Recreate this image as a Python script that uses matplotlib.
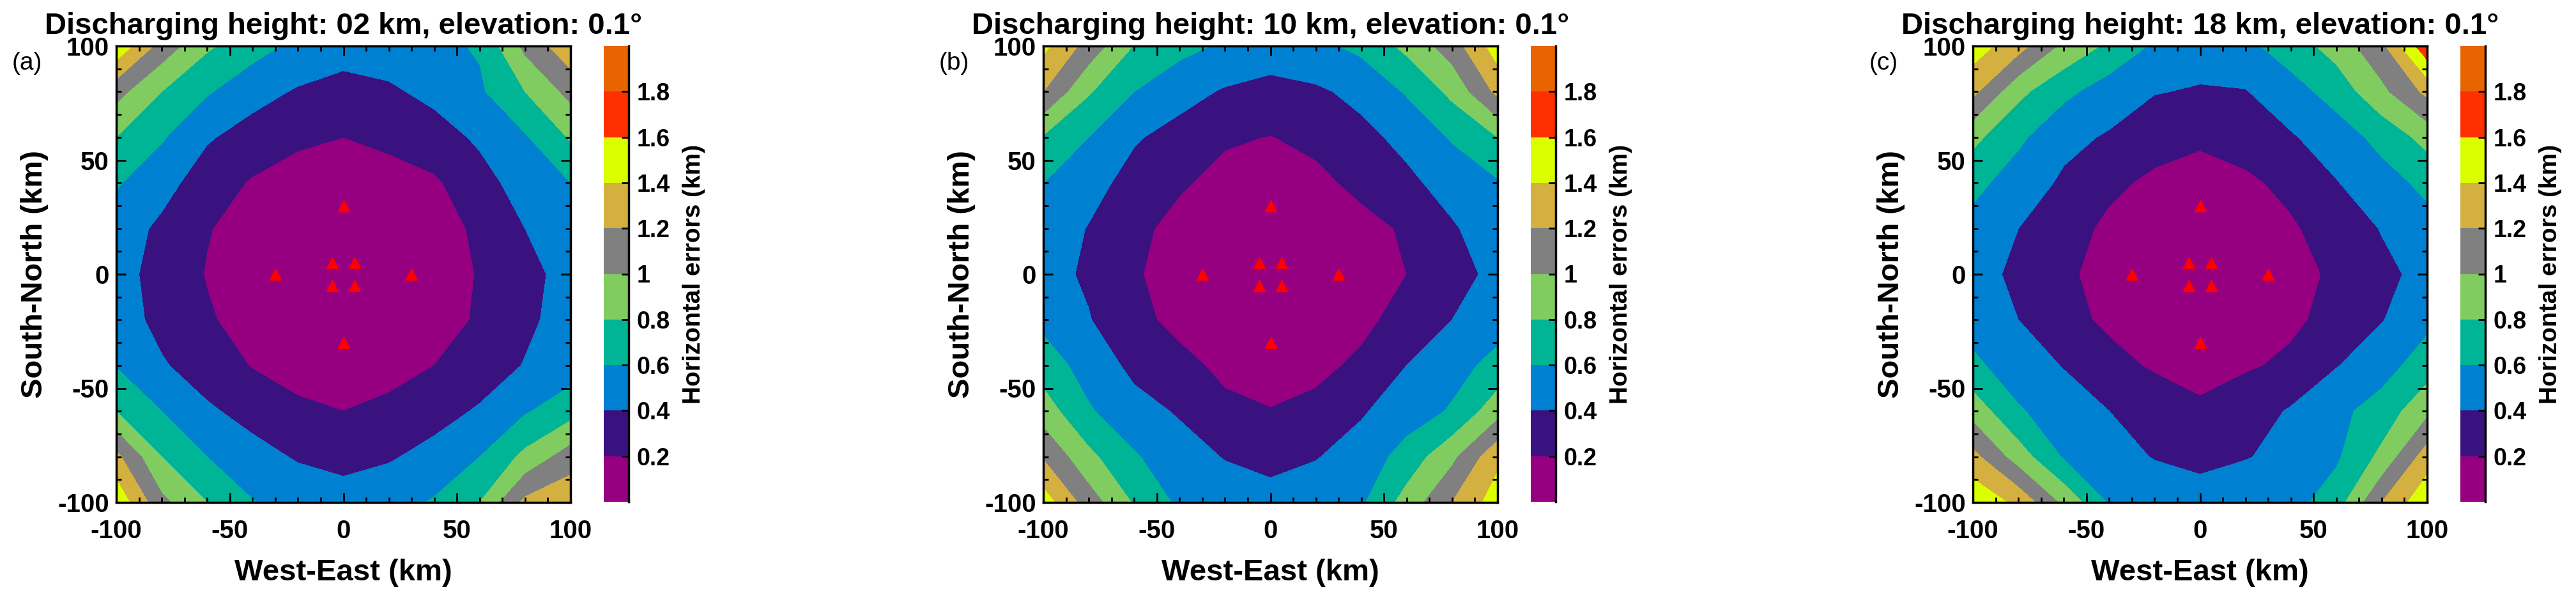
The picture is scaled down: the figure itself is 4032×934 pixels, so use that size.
import numpy as np
import matplotlib.pyplot as plt

plt.rcParams["font.family"] = ["Liberation Sans", "DejaVu Sans"]
plt.rcParams["font.weight"] = "bold"
plt.rcParams["axes.labelweight"] = "bold"
plt.rcParams["axes.unicode_minus"] = False

# grid of the error maps (km), rows go from y=100 (top) down to y=-100
x_km = [-100, -80, -60, -40, -20, 0, 20, 40, 60, 80, 100]
y_km = [100, 80, 60, 40, 20, 0, -20, -40, -60, -80, -100]

err_02 = [
    [1.55, 1.12, 0.83, 0.68, 0.55, 0.47, 0.50, 0.55, 0.62, 1.05, 1.34],
    [1.07, 0.80, 0.62, 0.47, 0.38, 0.34, 0.37, 0.45, 0.57, 0.80, 1.06],
    [0.80, 0.62, 0.42, 0.32, 0.23, 0.20, 0.24, 0.32, 0.43, 0.58, 0.82],
    [0.62, 0.47, 0.30, 0.18, 0.13, 0.12, 0.13, 0.17, 0.33, 0.48, 0.60],
    [0.50, 0.36, 0.21, 0.13, 0.08, 0.07, 0.08, 0.13, 0.23, 0.40, 0.50],
    [0.48, 0.32, 0.19, 0.12, 0.07, 0.05, 0.07, 0.12, 0.21, 0.33, 0.48],
    [0.50, 0.34, 0.22, 0.13, 0.08, 0.07, 0.08, 0.13, 0.22, 0.36, 0.48],
    [0.59, 0.42, 0.30, 0.19, 0.14, 0.12, 0.14, 0.20, 0.30, 0.41, 0.50],
    [0.80, 0.60, 0.43, 0.33, 0.23, 0.20, 0.24, 0.33, 0.42, 0.58, 0.72],
    [1.25, 0.80, 0.60, 0.47, 0.38, 0.34, 0.38, 0.46, 0.60, 0.85, 1.10],
    [1.55, 1.05, 0.80, 0.61, 0.53, 0.48, 0.52, 0.62, 0.80, 1.25, 1.35],
]

err_10 = [
    [1.45, 1.12, 0.79, 0.66, 0.57, 0.50, 0.55, 0.65, 0.85, 1.10, 1.50],
    [1.20, 0.82, 0.60, 0.47, 0.38, 0.34, 0.37, 0.45, 0.62, 0.85, 1.25],
    [0.78, 0.60, 0.42, 0.33, 0.22, 0.195, 0.24, 0.35, 0.45, 0.62, 0.80],
    [0.60, 0.47, 0.33, 0.22, 0.15, 0.13, 0.16, 0.24, 0.36, 0.47, 0.58],
    [0.52, 0.39, 0.24, 0.15, 0.09, 0.07, 0.09, 0.15, 0.22, 0.38, 0.50],
    [0.47, 0.37, 0.22, 0.12, 0.07, 0.05, 0.07, 0.12, 0.20, 0.33, 0.45],
    [0.55, 0.41, 0.25, 0.15, 0.09, 0.07, 0.09, 0.16, 0.26, 0.40, 0.52],
    [0.70, 0.52, 0.35, 0.25, 0.16, 0.14, 0.16, 0.23, 0.40, 0.53, 0.66],
    [0.90, 0.62, 0.47, 0.38, 0.24, 0.205, 0.24, 0.38, 0.50, 0.62, 0.92],
    [1.18, 0.85, 0.62, 0.48, 0.39, 0.34, 0.39, 0.48, 0.68, 0.95, 1.35],
    [1.50, 1.10, 0.78, 0.56, 0.50, 0.47, 0.50, 0.57, 0.88, 1.20, 1.50],
]

err_18 = [
    [1.50, 1.28, 0.95, 0.76, 0.57, 0.50, 0.55, 0.70, 0.88, 1.15, 1.75],
    [1.25, 0.85, 0.65, 0.50, 0.41, 0.38, 0.39, 0.52, 0.68, 0.95, 1.25],
    [0.85, 0.64, 0.45, 0.38, 0.26, 0.22, 0.27, 0.38, 0.50, 0.66, 0.87],
    [0.66, 0.50, 0.37, 0.23, 0.17, 0.15, 0.17, 0.24, 0.39, 0.52, 0.65],
    [0.53, 0.40, 0.26, 0.17, 0.10, 0.08, 0.10, 0.18, 0.27, 0.41, 0.53],
    [0.47, 0.36, 0.23, 0.14, 0.08, 0.06, 0.08, 0.14, 0.23, 0.35, 0.46],
    [0.52, 0.40, 0.25, 0.17, 0.10, 0.08, 0.10, 0.17, 0.25, 0.39, 0.55],
    [0.64, 0.50, 0.39, 0.25, 0.18, 0.16, 0.18, 0.23, 0.39, 0.52, 0.70],
    [0.92, 0.62, 0.50, 0.40, 0.30, 0.22, 0.30, 0.42, 0.55, 0.68, 0.95],
    [1.26, 0.90, 0.58, 0.47, 0.39, 0.35, 0.39, 0.45, 0.57, 0.85, 1.30],
    [1.55, 1.35, 0.95, 0.58, 0.52, 0.48, 0.52, 0.53, 0.70, 1.20, 1.55],
]

heights = ["02", "10", "18"]
panel_tags = ["(a)", "(b)", "(c)"]
station_x = [0, -30, 30, 0, -5, 5, -5, 5]
station_y = [30, 0, 0, -30, 5, 5, -5, -5]

levels = [0, 0.2, 0.4, 0.6, 0.8, 1.0, 1.2, 1.4, 1.6, 1.8, 2.0]
level_colors = ["#960080", "#3a1280", "#0080d0", "#00b496", "#80cc60",
                "#808080", "#d4b040", "#dcff00", "#ff3000", "#e86400"]
cbar_ticks = [0.2, 0.4, 0.6, 0.8, 1.0, 1.2, 1.4, 1.6, 1.8]
cbar_labels = ["0.2", "0.4", "0.6", "0.8", "1", "1.2", "1.4", "1.6", "1.8"]

W, H = 4032, 934
fig = plt.figure(figsize=(W / 100, H / 100), dpi=100)
lefts = [182, 1633, 3088]

for k, grid in enumerate([err_02, err_10, err_18]):
    ax = fig.add_axes([lefts[k] / W, 148 / H, 711 / W, 714 / H])
    cs = ax.contourf(x_km, y_km, np.array(grid), levels=levels, colors=level_colors)
    ax.plot(station_x, station_y, "^", color="red", mec="red", ms=13)
    ax.set_xlim(-100, 100)
    ax.set_ylim(-100, 100)
    ax.set_xticks([-100, -50, 0, 50, 100])
    ax.set_yticks([-100, -50, 0, 50, 100])
    ax.set_xticks(np.arange(-100, 101, 10), minor=True)
    ax.set_yticks(np.arange(-100, 101, 10), minor=True)
    ax.tick_params(which="both", direction="in", top=True, right=True, width=2)
    ax.tick_params(which="major", length=11, labelsize=29)
    ax.tick_params(which="minor", length=6)
    ax.tick_params(axis="x", which="major", pad=19)
    ax.tick_params(axis="y", which="major", pad=8)
    for s in ax.spines.values():
        s.set_linewidth(2.5)
    ax.set_xlabel("West-East (km)", fontsize=34, fontweight="bold")
    ax.set_ylabel("South-North (km)", fontsize=34, fontweight="bold")
    ax.xaxis.set_label_coords(0.5, -0.123)
    ax.yaxis.set_label_coords(-0.149, 0.5)
    ax.text(0.5, 1.027, "Discharging height: %s km, elevation: 0.1°" % heights[k],
            transform=ax.transAxes, ha="center", va="baseline", fontsize=34)
    ax.text(-0.197, 0.962, panel_tags[k], transform=ax.transAxes,
            ha="center", va="center", fontsize=28, fontweight="normal")

    cax = fig.add_axes([(lefts[k] + 763) / W, 149 / H, 39 / W, 713 / H])
    cb = fig.colorbar(cs, cax=cax, ticks=cbar_ticks)
    cb.set_ticklabels(cbar_labels)
    cb.outline.set_visible(False)
    cax.plot([1, 1], [0, 1], transform=cax.transAxes, color="black", lw=2.5, clip_on=False)
    cax.tick_params(direction="in", length=8, width=2, labelsize=27, pad=9)
    cb.set_label("Horizontal errors (km)", fontsize=28, fontweight="bold")
    cax.yaxis.set_label_coords(3.15, 0.5)

fig.savefig("out.png", dpi=100)
